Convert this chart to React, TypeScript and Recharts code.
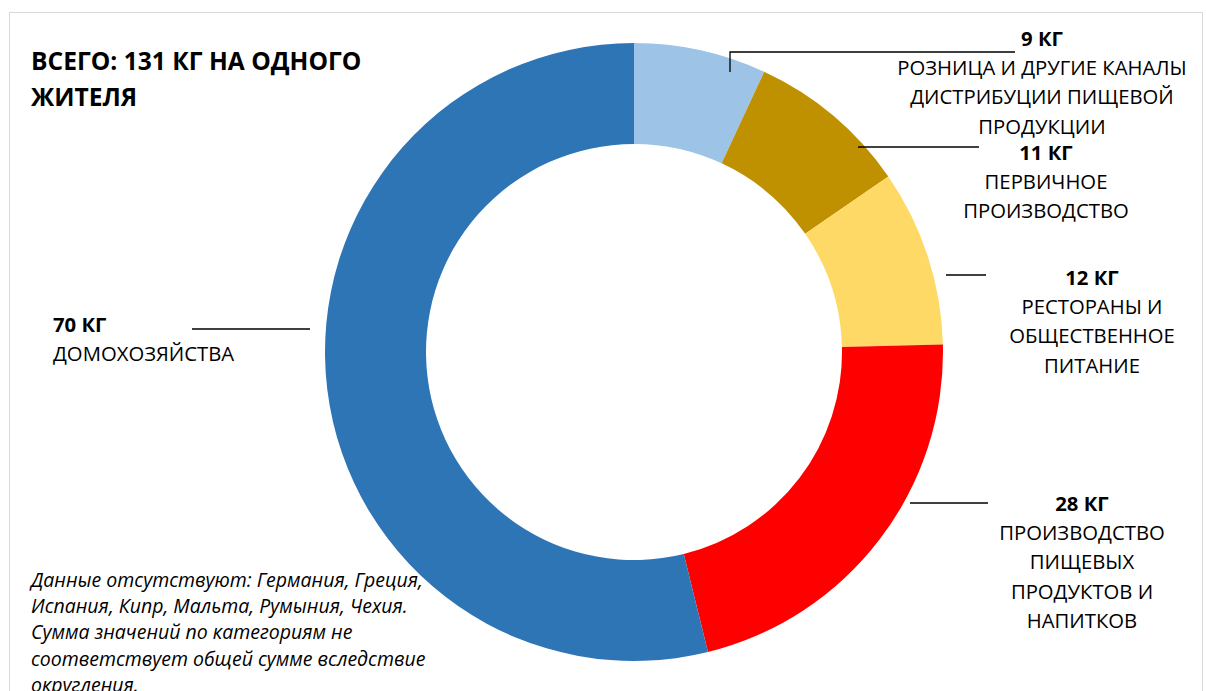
import { Cell, Pie, PieChart } from "recharts";

document.body.style.margin = "0";

const categories = [
  ["РОЗНИЦА И ДРУГИЕ КАНАЛЫ", "ДИСТРИБУЦИИ ПИЩЕВОЙ", "ПРОДУКЦИИ"],
  ["ПЕРВИЧНОЕ", "ПРОИЗВОДСТВО"],
  ["РЕСТОРАНЫ И", "ОБЩЕСТВЕННОЕ", "ПИТАНИЕ"],
  ["ПРОИЗВОДСТВО", "ПИЩЕВЫХ", "ПРОДУКТОВ И", "НАПИТКОВ"],
  ["ДОМОХОЗЯЙСТВА"],
];
const values = [9, 11, 12, 28, 70];
const unit = "КГ";
const titleLines = ["ВСЕГО: 131 КГ НА ОДНОГО", "ЖИТЕЛЯ"];
const noteLines = [
  "Данные отсутствуют: Германия, Греция,",
  "Испания, Кипр, Мальта, Румыния, Чехия.",
  "Сумма значений по категориям не",
  "соответствует общей сумме вследствие",
  "округления.",
];

const colors = ["#9DC3E6", "#BF9000", "#FFD966", "#FF0000", "#2E75B6"];

// label placement (text block origin + leader line)
const labelLayout = [
  { x: 1042, y: 38, anchor: "middle", line: [[730, 72], [730, 52], [1015, 52]] },
  { x: 1046, y: 152, anchor: "middle", line: [[858, 147], [979, 147]] },
  { x: 1092, y: 277, anchor: "middle", line: [[946, 275], [986, 275]] },
  { x: 1082, y: 503, anchor: "middle", line: [[910, 503], [988, 503]] },
  { x: 53, y: 324, anchor: "start", line: [[192, 329], [310, 329]] },
];

const data = values.map((v, i) => ({ name: categories[i].join(" "), value: v }));

const FONT = "'Open Sans', 'Noto Sans', sans-serif";
const LH = 29.2;

function renderLabel(props: any) {
  const i = props.index;
  const l = labelLayout[i];
  return (
    <g key={`lab-${i}`}>
      <polyline
        points={l.line.map((p) => p.join(",")).join(" ")}
        fill="none"
        stroke="#000"
        strokeWidth={1.3}
      />
      <text x={l.x} y={l.y} textAnchor={l.anchor} dominantBaseline="central" fontFamily={FONT} fontSize={20.3} fontWeight={700} fill="#000">
        {`${values[i]} ${unit}`}
      </text>
      {categories[i].map((line, k) => (
        <text
          key={k}
          x={l.x}
          y={l.y + LH * (k + 1)}
          textAnchor={l.anchor}
          dominantBaseline="central"
          fontFamily={FONT}
          fontSize={20.3}
          fill="#000"
        >
          {line}
        </text>
      ))}
    </g>
  );
}

export default function App() {
  return (
    <div style={{ position: "relative", width: 1206, height: 691, background: "#fff", overflow: "hidden" }}>
      <div
        style={{
          position: "absolute",
          left: 9,
          top: 12,
          width: 1194,
          height: 700,
          border: "1px solid #d9d9d9",
          boxSizing: "border-box",
        }}
      />
      <div style={{ position: "absolute", left: 0, top: 0 }}>
        <PieChart width={1206} height={691} margin={{ top: 0, right: 0, bottom: 0, left: 0 }}>
          <Pie
            data={data}
            dataKey="value"
            nameKey="name"
            cx={634}
            cy={352}
            innerRadius={208}
            outerRadius={309}
            startAngle={90}
            endAngle={-270}
            stroke="none"
            label={renderLabel}
            labelLine={false}
            isAnimationActive={false}
          >
            {data.map((d, i) => (
              <Cell key={d.name} fill={colors[i]} />
            ))}
          </Pie>
        </PieChart>
      </div>
      <svg width={1206} height={691} style={{ position: "absolute", left: 0, top: 0, pointerEvents: "none" }}>
        {titleLines.map((t, k) => (
          <text key={k} x={31} y={60 + 36 * k} dominantBaseline="central" fontFamily={FONT} fontSize={24.6} fontWeight={700} fill="#000">
            {t}
          </text>
        ))}
        {noteLines.map((t, k) => (
          <text key={k} x={31} y={579 + 26.4 * k} dominantBaseline="central" fontFamily={FONT} fontSize={19.5} fontStyle="italic" fill="#000">
            {t}
          </text>
        ))}
      </svg>
    </div>
  );
}
